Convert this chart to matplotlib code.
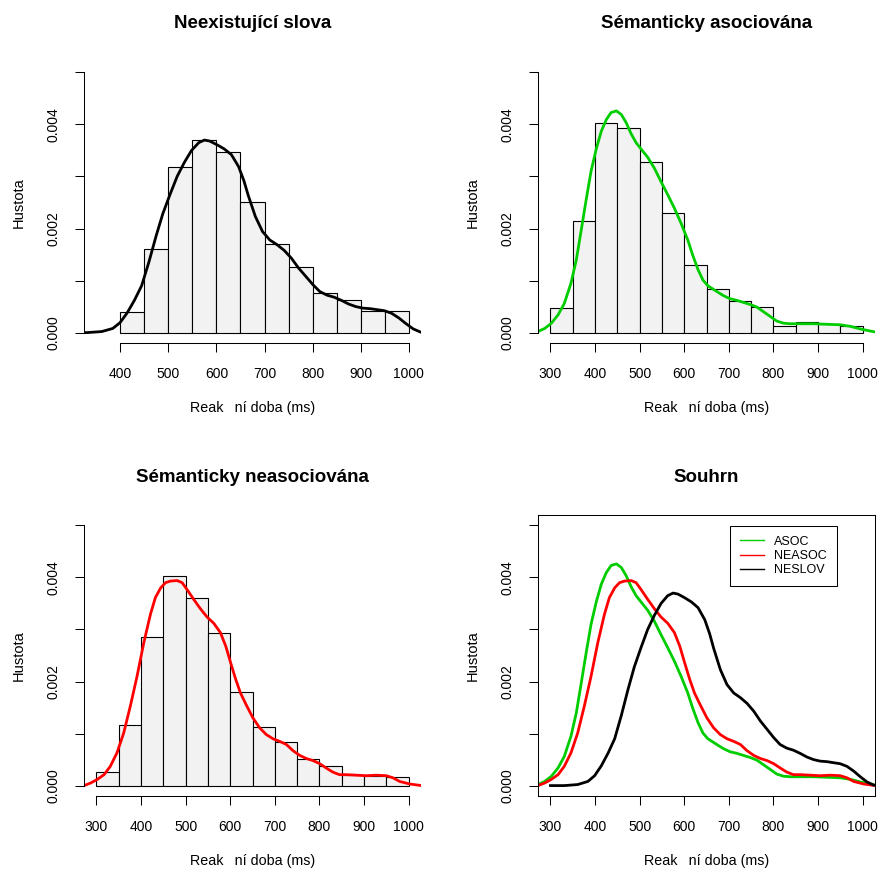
import matplotlib
matplotlib.use("Agg")
import matplotlib.pyplot as plt
from matplotlib.lines import Line2D

plt.rcParams['font.family'] = ['Liberation Sans', 'DejaVu Sans']

# ---------------- data ----------------
titles = ["Neexistující slova", "Sémanticky asociována", "Sémanticky neasociována", "Souhrn"]
xlabel = "Reak\u2002 ní doba (ms)"
ylabel = "Hustota"

# histogram bins (ms) and densities
neslov_breaks = [400, 450, 500, 550, 600, 650, 700, 750, 800, 850, 900, 950, 1000]
neslov_hist = [0.00040, 0.00160, 0.00319, 0.00370, 0.00347, 0.00251, 0.00170,
               0.00126, 0.00077, 0.00063, 0.00042, 0.00042]

asoc_breaks = [300, 350, 400, 450, 500, 550, 600, 650, 700, 750, 800, 850, 900, 950, 1000]
asoc_hist = [0.00047, 0.00215, 0.00402, 0.00393, 0.00328, 0.00230, 0.00130, 0.00083,
             0.00061, 0.00049, 0.000135, 0.000205, 0.000167, 0.000128]

neasoc_breaks = [300, 350, 400, 450, 500, 550, 600, 650, 700, 750, 800, 850, 900, 950, 1000]
neasoc_hist = [0.00026, 0.00116, 0.00285, 0.00402, 0.00360, 0.00293, 0.00179, 0.00113,
               0.00084, 0.00051, 0.00037, 0.00020, 0.00018, 0.00017]

# kernel density curves
neslov_x = [300, 331, 361, 384, 399, 414, 429, 444, 459, 474, 488, 503, 518, 533, 548,
            563, 575, 586, 601, 616, 631, 646, 657, 666, 681, 696, 711, 726, 741, 756,
            771, 786, 801, 815, 830, 845, 860, 875, 890, 905, 920, 935, 950, 965, 980,
            995, 1010, 1025]
neslov_y = [0.0, 0.0, 0.00002, 0.00008, 0.00019, 0.00038, 0.00062, 0.00090, 0.00135,
            0.00185, 0.00228, 0.00265, 0.00300, 0.00327, 0.00350, 0.00365, 0.00370,
            0.00368, 0.00361, 0.00353, 0.00342, 0.00319, 0.00292, 0.00264, 0.00223,
            0.00194, 0.00178, 0.00169, 0.00158, 0.00143, 0.00124, 0.00108, 0.00092,
            0.00079, 0.00072, 0.00068, 0.00062, 0.00055, 0.00050, 0.00047, 0.00046,
            0.00044, 0.00042, 0.00037, 0.00028, 0.00017, 0.00007, 0.00001]

asoc_x = [272, 287, 302, 317, 331, 346, 358, 369, 380, 391, 403, 414, 425, 436, 448, 459,
          470, 481, 492, 503, 518, 533, 548, 563, 578, 593, 608, 619, 631, 642, 653, 664,
          673, 688, 703, 718, 733, 748, 763, 778, 793, 808, 823, 838, 860, 890, 920, 950,
          973, 995, 1017, 1030]
asoc_y = [0.00002, 0.00008, 0.00018, 0.00034, 0.00056, 0.00095, 0.00140, 0.00197, 0.00255,
          0.00310, 0.00354, 0.00387, 0.00409, 0.00423, 0.00426, 0.00419, 0.00403, 0.00382,
          0.00365, 0.00353, 0.00337, 0.00316, 0.00290, 0.00265, 0.00239, 0.00210, 0.00178,
          0.00149, 0.00121, 0.00101, 0.00090, 0.00084, 0.00079, 0.00071, 0.00065, 0.00062,
          0.00058, 0.00054, 0.00049, 0.00040, 0.00031, 0.00022, 0.00018, 0.00017, 0.00017,
          0.00017, 0.00016, 0.00015, 0.00012, 0.00007, 0.00003, 0.00001]

neasoc_x = [272, 287, 302, 317, 331, 346, 361, 376, 391, 406, 421, 432, 444, 455, 466, 481,
            492, 503, 518, 533, 548, 563, 578, 590, 601, 612, 623, 636, 651, 666, 681, 696,
            711, 726, 741, 756, 771, 786, 801, 815, 830, 845, 860, 883, 905, 928, 950, 965,
            980, 1003, 1029]
neasoc_y = [0.0, 0.00005, 0.00012, 0.00021, 0.00037, 0.00063, 0.00101, 0.00153, 0.00210,
            0.00274, 0.00329, 0.00361, 0.00380, 0.00390, 0.00393, 0.00394, 0.00390, 0.00377,
            0.00358, 0.00340, 0.00324, 0.00312, 0.00294, 0.00268, 0.00236, 0.00205, 0.00178,
            0.00155, 0.00130, 0.00111, 0.00098, 0.00090, 0.00085, 0.00079, 0.00067, 0.00058,
            0.00052, 0.00048, 0.00042, 0.00034, 0.00026, 0.00021, 0.00021, 0.00020, 0.00019,
            0.00020, 0.00019, 0.00015, 0.00008, 0.00003, 0.0]

legend_labels = ["ASOC", "NEASOC", "NESLOV"]
yticks = [0.000, 0.001, 0.002, 0.003, 0.004, 0.005]
yticklabels = ["0.000", "", "0.002", "", "0.004", ""]

# ---------------- style ----------------
GREEN = "#00CD00"
RED = "#FF0000"
BLACK = "#000000"
FILL = "#F2F2F2"

W, H = 882, 871
fig = plt.figure(figsize=(W / 100, H / 100), dpi=100)

def make_ax(left_px, top_px, w_px=337, h_px=281):
    return fig.add_axes([left_px / W, 1 - (top_px + h_px) / H, w_px / W, h_px / H])

axes = [make_ax(84, 62), make_ax(538, 62), make_ax(84, 515), make_ax(538, 515)]

def rlim(lo, hi):
    d = 0.04 * (hi - lo)
    return lo - d, hi + d

def style(ax, xlo, xhi, xticks, box=False):
    ax.set_xlim(*rlim(xlo, xhi))
    ax.set_ylim(*rlim(0, 0.005))
    ax.set_xticks(xticks)
    ax.set_xticklabels([str(t) for t in xticks])
    ax.set_yticks(yticks)
    ax.set_yticklabels(yticklabels)
    ax.tick_params(axis='both', direction='out', length=6.5, width=0.75, pad=10.5,
                   labelsize=10, color=BLACK)
    ax.tick_params(axis='y', labelrotation=90)
    for lab in ax.get_yticklabels():
        lab.set_va('center')
    for sp in ax.spines.values():
        sp.set_linewidth(0.75)
    if not box:
        ax.spines['top'].set_visible(False)
        ax.spines['right'].set_visible(False)
        ax.spines['left'].set_bounds(0, 0.005)
        ax.spines['bottom'].set_bounds(xticks[0], xticks[-1])
    ax.set_xlabel(xlabel, fontsize=10.3)
    ax.xaxis.set_label_coords(0.5, -65 / 281)
    ax.xaxis.label.set_verticalalignment('center')
    ax.set_ylabel(ylabel, fontsize=10.5)
    ax.yaxis.set_label_coords(-65 / 337, 0.5)
    ax.yaxis.label.set_verticalalignment('center')
    ax.patch.set_alpha(0)

def hist(ax, breaks, dens):
    lefts = breaks[:-1]
    widths = [b - a for a, b in zip(breaks[:-1], breaks[1:])]
    ax.bar(lefts, dens, width=widths, align='edge', color=FILL, edgecolor=BLACK,
           linewidth=0.8)

def title(ax, text):
    ax.text(0.5, 1 + 38 / 281, text, transform=ax.transAxes, ha='center', va='center',
            fontsize=13.5, fontweight='bold')

xt1 = [400, 500, 600, 700, 800, 900, 1000]
xt2 = [300, 400, 500, 600, 700, 800, 900, 1000]

ax = axes[0]
hist(ax, neslov_breaks, neslov_hist)
ax.plot(neslov_x, neslov_y, color=BLACK, lw=2, solid_joinstyle='round')
style(ax, 350, 1000, xt1)
title(ax, titles[0])

ax = axes[1]
hist(ax, asoc_breaks, asoc_hist)
ax.plot(asoc_x, asoc_y, color=GREEN, lw=2, solid_joinstyle='round')
style(ax, 300, 1000, xt2)
title(ax, titles[1])

ax = axes[2]
hist(ax, neasoc_breaks, neasoc_hist)
ax.plot(neasoc_x, neasoc_y, color=RED, lw=2, solid_joinstyle='round')
style(ax, 300, 1000, xt2)
title(ax, titles[2])

ax = axes[3]
ax.plot(asoc_x, asoc_y, color=GREEN, lw=2, solid_joinstyle='round')
ax.plot(neasoc_x, neasoc_y, color=RED, lw=2, solid_joinstyle='round')
ax.plot(neslov_x, neslov_y, color=BLACK, lw=2, solid_joinstyle='round')
style(ax, 300, 1000, xt2, box=True)
title(ax, titles[3])
handles = [Line2D([], [], color=c, lw=1) for c in (GREEN, RED, BLACK)]
leg = ax.legend(handles, legend_labels, loc='upper left', bbox_to_anchor=(0.570, 0.962),
                borderaxespad=0, fontsize=9, handlelength=1.9, handletextpad=0.8,
                borderpad=0.8, labelspacing=0.18, fancybox=False, framealpha=1,
                edgecolor=BLACK)
leg.get_frame().set_linewidth(0.75)

fig.savefig("out.png", dpi=100)
